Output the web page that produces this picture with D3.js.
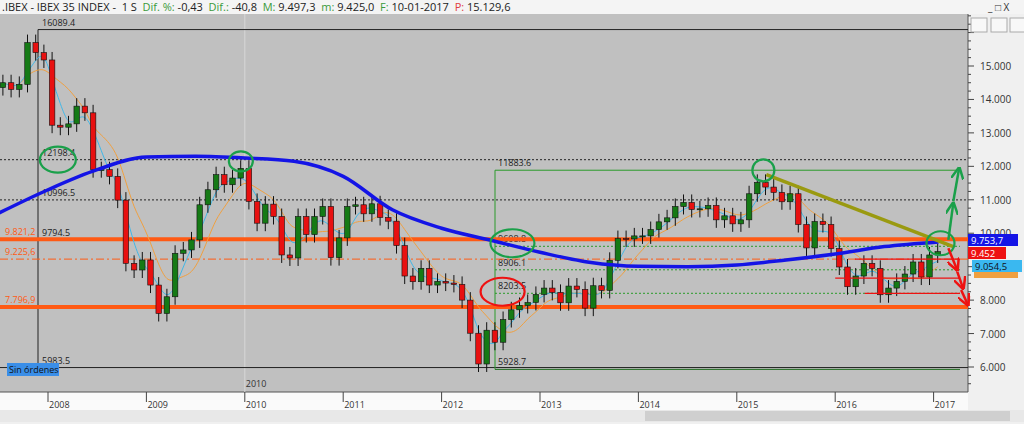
<!DOCTYPE html><html><head><meta charset="utf-8">
<script src="https://cdn.jsdelivr.net/npm/d3@7"></script>
<style>body{margin:0;background:#f0f0f0;font-family:"Open Sans",sans-serif}</style></head><body>
<svg id="c" width="1024" height="424"></svg>
<script>
const startYear = 2007.5;
const closes = [14500,14300,14450,15700,15400,15180,
13230,13170,13270,13800,13600,11900,11900,11700,10990,9100,8900,9200,
8450,7600,8100,9400,9500,9800,10850,11300,11750,11450,11650,11940,
10950,10300,10870,10500,9350,9260,10500,9960,10500,10800,9270,9860,
10800,10850,10580,10880,10470,10360,9630,8720,8550,8950,8450,8560,
8510,8470,8000,7010,6090,7100,6740,7420,7710,7840,7930,8170,
8360,8230,7920,8420,8320,7760,8430,8290,9190,9840,9830,9920,
9920,10110,10340,10460,10800,10920,10710,10730,10830,10400,10520,10280,
10400,11180,11520,11380,11220,10940,11180,10260,9560,10350,10260,9540,
8990,8400,8720,9100,8950,8160,8360,8560,8780,9140,8690,9350,9450];
const ma200T = [2007.5,2008,2008.5,2009,2009.5,2010,2010.5,2011,2011.5,2012,2012.5,2013,2013.5,2014,2014.5,2015,2015.5,2016,2016.5,2017.05];
const ma200V = [10600,11300,11900,12280,12300,12250,12150,11700,10700,10150,9790,9430,9130,9010,9000,9050,9200,9380,9600,9740];
const yTicks = [6000,7000,8000,9000,10000,11000,12000,13000,14000,15000];
const years = [2008,2009,2010,2011,2012,2013,2014,2015,2016,2017];
const levels = [{v:16089.4,l:"16089.4"},{v:12198.4,l:"12198.4"},{v:10996.5,l:"10996.5"},{v:9794.5,l:"9794.5"},{v:5983.5,l:"5983.5"}];
const fib = [{v:11883.6,l:"11883.6"},{v:9608.8,l:"9608.8"},{v:8906.1,l:"8906.1"},{v:8203.5,l:"8203.5"},{v:5928.7,l:"5928.7"}];
const orange = [{v:9821.2,l:"9.821,2"},{v:9225.6,l:"9.225,6"},{v:7796.9,l:"7.796,9"}];

const svg = d3.select("#c");
const W=968, pTop=14, bot=392;
const x = d3.scaleLinear().domain([2008,2017]).range([48,933.6]);
const y = d3.scaleLinear().domain([6000,15000]).range([367,66]);
svg.append("rect").attr("x",0).attr("y",pTop).attr("width",W).attr("height",bot-pTop).attr("fill","#c0c0c0");
svg.append("rect").attr("x",0).attr("y",0).attr("width",1024).attr("height",14).attr("fill","#f4f4f4");
const hdr = svg.append("text").attr("x",2).attr("y",11).attr("font-size",11);
[[".IBEX - IBEX 35 INDEX -  1 S  ","#222"],["Dif. %: ","#3a9a3a"],["-0,43  ","#222"],["Dif.: ","#3a9a3a"],["-40,8  ","#222"],["M: ","#3a9a3a"],["9.497,3  ","#222"],["m: ","#3a9a3a"],["9.425,0  ","#222"],["F: ","#3a9a3a"],["10-01-2017  ","#222"],["P: ","#e04040"],["15.129,6","#222"]].forEach(s=>hdr.append("tspan").attr("fill",s[1]).attr("xml:space","preserve").text(s[0]));
svg.append("text").attr("x",988).attr("y",11).attr("font-size",10).attr("fill","#333").text("_ □ X");
const ax = svg.append("g").attr("transform",`translate(${W},0)`);
ax.append("line").attr("y1",14).attr("y2",bot).attr("stroke","#555");
const minor = d3.range(5500,16600,250);
ax.selectAll(".mt").data(minor).join("line").attr("x1",0).attr("x2",d=>d%1000===0?6:3).attr("y1",d=>y(d)).attr("y2",d=>y(d)).attr("stroke","#444");
ax.selectAll(".tl").data(yTicks).join("text").attr("x",12).attr("y",d=>y(d)+4).attr("font-size",10).attr("fill","#333").text(d=>d3.format(",")(d).replace(",","."));
svg.append("rect").attr("x",0).attr("y",bot).attr("width",W).attr("height",18).attr("fill","#fafafa");
svg.append("line").attr("x1",0).attr("x2",W).attr("y1",bot).attr("y2",bot).attr("stroke","#555");
svg.selectAll(".yt").data(years).join("line").attr("x1",d=>x(d)).attr("x2",d=>x(d)).attr("y1",bot).attr("y2",bot+10).attr("stroke","#444");
svg.selectAll(".yl").data(years).join("text").attr("x",d=>x(d)+1).attr("y",bot+16).attr("font-size",9).attr("fill","#333").text(d=>d);
svg.append("rect").attr("x",0).attr("y",410).attr("width",1024).attr("height",12).attr("fill","#e8e8e8");
svg.append("rect").attr("x",645).attr("y",411).attr("width",365).attr("height",10).attr("fill","#cfcfcf");
svg.append("line").attr("x1",x(2010)).attr("x2",x(2010)).attr("y1",pTop).attr("y2",bot).attr("stroke","#d8d8d8");
svg.append("text").attr("x",x(2010)+1).attr("y",387).attr("font-size",9).attr("fill","#333").text("2010");
svg.append("line").attr("x1",38).attr("x2",38).attr("y1",y(16089.4)).attr("y2",y(5928.7)).attr("stroke","#222");
levels.forEach((d,i)=>{
  const solid = i===0||i===4;
  svg.append("line").attr("x1",i===0?38:0).attr("x2",W).attr("y1",y(d.v)).attr("y2",y(d.v)).attr("stroke","#222").attr("stroke-width",1).attr("stroke-dasharray",solid?null:"2,2");
  svg.append("text").attr("x",42).attr("y",y(d.v)-4).attr("font-size",9).attr("fill","#222").text(d.l);
});
const fx = 495;
svg.append("line").attr("x1",fx).attr("x2",fx).attr("y1",y(11883.6)).attr("y2",y(5928.7)).attr("stroke","#2a9a2a");
fib.forEach((d,i)=>{
  const solid=i===0||i===4;
  svg.append("line").attr("x1",fx).attr("x2",W-8).attr("y1",y(d.v)).attr("y2",y(d.v)).attr("stroke",i===4?"#1d6b1d":"#2a9a2a").attr("stroke-dasharray",solid?null:"2,2");
  svg.append("text").attr("x",fx+3).attr("y",y(d.v)-4).attr("font-size",9).attr("fill","#222").text(d.l);
});
orange.forEach((d,i)=>{
  svg.append("line").attr("x1",0).attr("x2",W).attr("y1",y(d.v)).attr("y2",y(d.v)).attr("stroke","#ff5a14").attr("stroke-width",i===1?1:4).attr("stroke-dasharray",i===1?"8,3,2,3":null);
  svg.append("text").attr("x",5).attr("y",y(d.v)-4).attr("font-size",9).attr("fill","#ff5a14").text(d.l);
});
const data = closes.map((c,i)=>({t:startYear+i/12+1/24,c,o:i?closes[i-1]:c*0.99}));
const cw=5.5;
const sma=(n)=>data.map((d,i)=>({t:d.t,v:d3.mean(closes.slice(Math.max(0,i-n+1),i+1))}));
const ln=d3.line().x(d=>x(d.t)).y(d=>y(d.v)).curve(d3.curveBasis);
svg.append("path").attr("d",ln(sma(6))).attr("fill","none").attr("stroke","#f0a040").attr("stroke-width",1);
svg.append("path").attr("d",ln(sma(3))).attr("fill","none").attr("stroke","#40b8e8").attr("stroke-width",1);
const g=svg.append("g");
data.forEach(d=>{
  const hi=Math.max(d.o,d.c), lo=Math.min(d.o,d.c);
  g.append("line").attr("x1",x(d.t)).attr("x2",x(d.t)).attr("y1",y(hi)-8).attr("y2",y(lo)+8).attr("stroke","#111");
  g.append("rect").attr("x",x(d.t)-cw/2).attr("y",y(hi)).attr("width",cw).attr("height",Math.max(1,y(lo)-y(hi))).attr("fill",d.c>=d.o?"#157a15":"#e81010").attr("stroke","#111").attr("stroke-width",0.6);
});
svg.append("path").attr("d",d3.line().x((d,i)=>x(ma200T[i])).y(d=>y(d)).curve(d3.curveMonotoneX)(ma200V)).attr("fill","none").attr("stroke","#1414e6").attr("stroke-width",3.5);
[[9225.6,x(2016.2)],[8660,x(2016.0)],[8203.5,x(2016.3)]].forEach(r=>svg.append("line").attr("x1",r[1]).attr("x2",W-8).attr("y1",y(r[0])).attr("y2",y(r[0])).attr("stroke","#ee1111").attr("stroke-width",1.3));
svg.append("line").attr("x1",x(2015.3)).attr("y1",y(11750)).attr("x2",x(2017.2)).attr("y2",y(9600)).attr("stroke","#9a9a10").attr("stroke-width",3.5);
const ell=[[2008.1,12198,18,13,"#1aa04a"],[2009.96,12150,12,10,"#1aa04a"],[2012.72,9700,22,14,"#1aa04a"],[2015.27,11880,11,11,"#1aa04a"],[2017.07,9700,14,12,"#1aa04a"],[2012.62,8250,22,14,"#ee1111"]];
ell.forEach(e=>svg.append("ellipse").attr("cx",x(e[0])).attr("cy",y(e[1])).attr("rx",e[2]).attr("ry",e[3]).attr("fill","none").attr("stroke",e[4]).attr("stroke-width",2.2));
const defs=svg.append("defs");
[["ag","#1aa04a"],["ar","#ee1111"]].forEach(m=>defs.append("marker").attr("id",m[0]).attr("viewBox","0 0 10 10").attr("refX",9).attr("refY",5).attr("markerWidth",5).attr("markerHeight",5).attr("orient","auto").append("path").attr("d","M0,0L10,5L0,10").attr("fill","none").attr("stroke",m[1]).attr("stroke-width",2));
const arr=(p,c,m)=>svg.append("polyline").attr("points",p.map(q=>x(q[0])+","+y(q[1])).join(" ")).attr("fill","none").attr("stroke",c).attr("stroke-width",2.5).attr("marker-end",`url(#${m})`);
arr([[2017.15,9800],[2017.2,10900]],"#1aa04a","ag");
arr([[2017.2,10950],[2017.26,11950]],"#1aa04a","ag");
arr([[2017.15,9550],[2017.24,8900]],"#ee1111","ar");
arr([[2017.24,8850],[2017.3,8350]],"#ee1111","ar");
arr([[2017.28,8300],[2017.35,7850]],"#ee1111","ar");
const rl=[["#f0a040","",6,272,44],["#1414e6","9.753,7",0,240,50],["#ee1111","9.452",0,253,38],["#3ab8f0","9.054,5",4,266,50]];
rl.forEach(r=>{svg.append("rect").attr("x",W+r[2]).attr("y",r[3]-6).attr("width",r[4]).attr("height",12).attr("fill",r[0]);
 if(r[1])svg.append("text").attr("x",W+r[2]+3).attr("y",r[3]+4).attr("font-size",9.5).attr("fill",r[0]==="#3ab8f0"?"#112":"#fff").text(r[1]);});
svg.append("rect").attr("x",7).attr("y",363).attr("width",52).attr("height",13).attr("fill","#3a8ee8");
svg.append("text").attr("x",9).attr("y",373).attr("font-size",9).attr("fill","#111").text("Sin órdenes");
[[971,18],[991,18],[1010,18]].forEach(p=>svg.append("rect").attr("x",p[0]).attr("y",p[1]).attr("width",16).attr("height",14).attr("fill","#f8f8f8").attr("stroke","#aaa"));
</script></body></html>
